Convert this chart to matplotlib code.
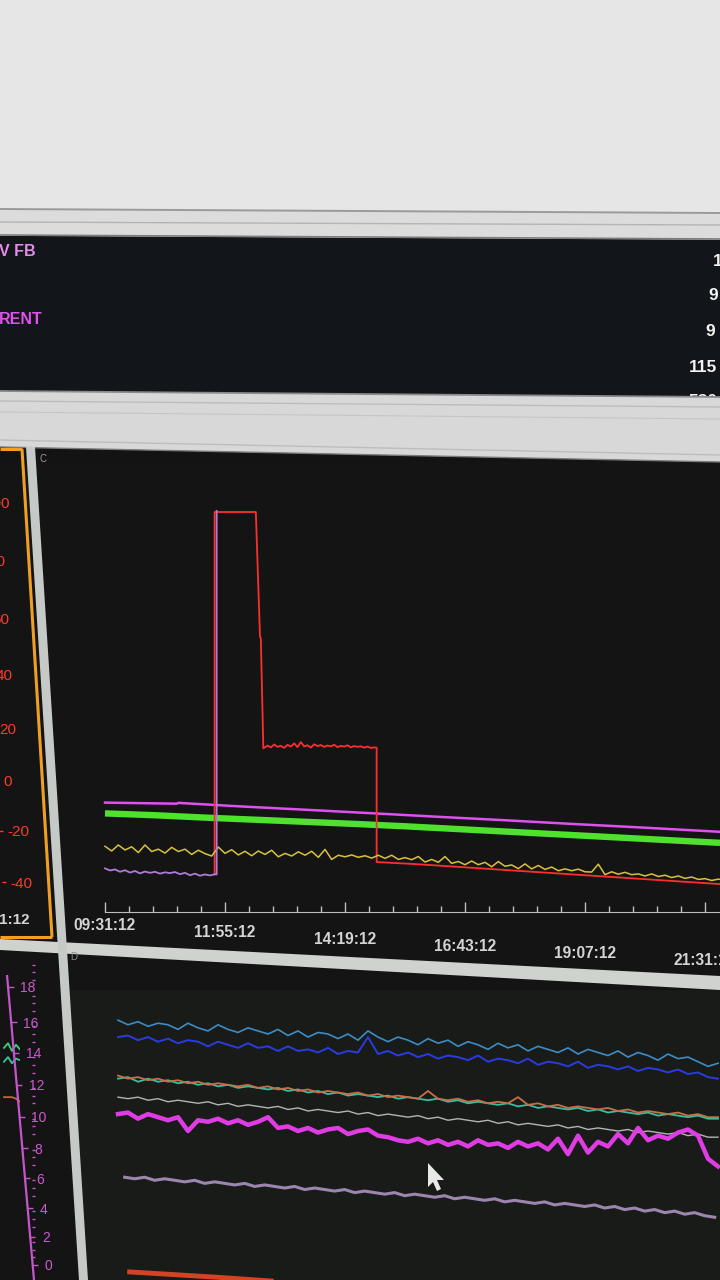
import numpy as np
import matplotlib
matplotlib.use("Agg")
import matplotlib.pyplot as plt
from matplotlib.patches import Polygon
from matplotlib.lines import Line2D
from matplotlib.ticker import FixedLocator
from matplotlib.transforms import ScaledTranslation

plt.rcParams['font.family'] = ['Liberation Sans', 'DejaVu Sans']

# ---------------------------------------------------------------- data
time_tick_minutes = [0, 144, 288, 432, 576, 720]
time_tick_labels = ["09:31:12", "11:55:12", "14:19:12", "16:43:12", "19:07:12", "21:31:12"]
c_axis_ticks = [100, 80, 60, 40, 20, 0, -20, -40]
d_axis_ticks = [0, 2, 4, 6, 8, 10, 12, 14, 16, 18]

# panel C (minutes since 09:31:12, values on the red scale)
c_magenta_t = [0, 86, 88, 160, 240, 324, 400, 480, 560, 640, 738]
c_magenta_v = [-8.6, -9.0, -8.7, -10.0, -11.3, -12.7, -14.0, -15.3, -16.7, -18.0, -19.7]

c_green_t = [0, 60, 120, 180, 240, 300, 360, 420, 480, 540, 600, 660, 738]
c_green_v = [-12.7, -13.4, -14.3, -15.1, -15.9, -16.7, -17.6, -18.6, -19.6, -20.6, -21.6, -22.6, -23.9]

c_yellow_v = [-25.2, -27.0, -24.7, -26.6, -25.4, -27.6, -24.7, -27.2, -26.3, -27.8,
              -25.6, -27.2, -26.3, -28.3, -26.7, -28.0, -28.9, -25.5, -27.9, -26.5,
              -28.5, -27.1, -28.8, -27.0, -28.3, -26.7, -29.2, -27.9, -28.9, -27.3,
              -28.6, -27.1, -29.4, -26.4, -30.2, -28.6, -29.2, -28.5, -29.4, -28.8,
              -29.7, -28.6, -29.8, -28.6, -30.2, -29.5, -30.3, -29.1, -31.2, -30.2,
              -31.3, -29.1, -31.7, -31.0, -32.2, -30.8, -32.2, -31.3, -33.0, -31.0,
              -32.8, -32.3, -33.7, -31.9, -33.8, -32.5, -34.0, -33.1, -34.5, -33.8,
              -34.5, -33.9, -34.9, -35.0, -32.0, -36.0, -34.9, -35.8, -35.1, -36.0,
              -35.7, -36.5, -35.7, -36.7, -36.2, -37.1, -36.5, -37.4, -36.9, -37.8,
              -37.5, -38.2, -37.7, -38.1]
c_yellow_step = 8

c_purple_t = [0, 6, 12, 18, 24, 30, 36, 42, 48, 54, 60, 66, 72, 78, 84, 90, 96, 102,
              108, 114, 120, 126, 132, 134, 134]
c_purple_v = [-33.6, -34.4, -34.0, -34.9, -34.3, -35.2, -34.6, -35.5, -34.8, -35.3,
              -34.9, -35.6, -35.1, -35.4, -35.0, -35.8, -35.3, -36.2, -35.6, -36.4,
              -35.9, -36.3, -35.8, -35.9, 102.3]

c_red_t = [131.5, 131.5, 181, 186, 187, 190,
           195, 199, 203, 207, 211, 215, 219, 223, 227, 231, 235, 239, 243, 247, 251,
           255, 259, 263, 267, 271, 275, 279, 283, 287, 291, 295, 299, 303, 307, 311,
           315, 319, 323, 326, 326,
           350, 374, 398, 422, 446, 470, 494, 518, 542, 566, 590, 614, 638, 662, 686,
           710, 734, 744]
c_red_v = [-35.9, 101.9, 101.9, 54.5, 53.8, 12.0,
           13.1, 12.4, 13.5, 12.6, 13.0, 12.2, 13.4, 12.7, 13.9, 12.5, 14.4, 12.8, 13.2,
           12.3, 13.6, 12.9, 13.3, 12.6, 13.1, 12.8, 13.4, 12.5, 13.0, 12.7, 13.2, 12.4,
           12.9, 12.6, 12.8, 12.3, 12.7, 12.2, 12.4, 12.3, -31.2,
           -31.6, -32.0, -32.5, -33.0, -33.5, -34.0, -34.5, -35.0, -35.5, -36.0, -36.5,
           -37.0, -37.5, -38.0, -38.5, -39.0, -39.5, -39.7]

# panel D (12-minute samples, values on the magenta scale)
d_step = 12
d_cyan_v = [15.9, 15.6, 15.8, 15.5, 15.7, 15.6, 15.3, 15.7, 15.4, 15.2, 15.6, 15.3, 15.1,
            15.4, 15.2, 15.0, 15.3, 14.9, 15.2, 14.8, 15.1, 15.0, 14.7, 15.0, 14.6, 15.2,
            14.8, 14.5, 14.8, 14.6, 14.3, 14.7, 14.4, 14.6, 14.2, 14.5, 14.3, 14.0, 14.4,
            14.1, 14.3, 13.9, 14.2, 14.0, 13.8, 14.1, 13.7, 14.0, 13.8, 13.6, 13.9, 13.5,
            13.8, 13.6, 13.3, 13.7, 13.4, 13.5, 13.2, 12.9, 13.1]
d_blue_v = [14.8, 14.9, 14.6, 14.8, 14.5, 14.7, 14.4, 14.6, 14.5, 14.2, 14.5, 14.3, 14.1,
            14.4, 14.1, 14.2, 13.9, 14.2, 13.9, 14.0, 13.8, 14.1, 13.7, 13.9, 13.8, 14.8,
            13.7, 13.9, 13.6, 13.8, 13.5, 13.7, 13.4, 13.6, 13.5, 13.3, 13.6, 13.2, 13.4,
            13.3, 13.1, 13.4, 13.0, 13.2, 13.1, 12.9, 13.2, 12.8, 13.0, 12.9, 12.7, 12.9,
            12.6, 12.8, 12.7, 12.5, 12.7, 12.4, 12.5, 12.2, 12.1]
d_orange_v = [12.3, 12.1, 12.2, 12.0, 12.1, 11.9, 12.0, 11.8, 11.9, 11.7, 11.8, 11.7, 11.6,
              11.7, 11.5, 11.6, 11.4, 11.5, 11.3, 11.4, 11.2, 11.3, 11.2, 11.1, 11.2, 11.0,
              11.1, 10.9, 11.0, 10.9, 10.8, 11.3, 10.8, 10.7, 10.8, 10.6, 10.7, 10.5, 10.6,
              10.5, 10.9, 10.4, 10.5, 10.3, 10.4, 10.2, 10.3, 10.2, 10.1, 10.2, 10.0, 10.1,
              9.9, 10.0, 9.9, 9.8, 9.9, 9.7, 9.8, 9.6, 9.6]
d_teal_v = [12.1, 12.2, 11.9, 12.1, 11.9, 12.0, 11.8, 11.9, 11.7, 11.8, 11.6, 11.7, 11.5,
            11.6, 11.5, 11.4, 11.5, 11.3, 11.4, 11.2, 11.3, 11.1, 11.2, 11.0, 11.1, 11.0,
            10.9, 11.0, 10.8, 10.9, 10.8, 10.7, 10.8, 10.6, 10.7, 10.5, 10.6, 10.5, 10.4,
            10.5, 10.3, 10.4, 10.2, 10.3, 10.2, 10.1, 10.2, 10.0, 10.1, 9.9, 10.0, 9.9,
            9.8, 9.9, 9.7, 9.8, 9.7, 9.6, 9.7, 9.5, 9.5]
d_gray_v = [10.9, 10.8, 10.9, 10.7, 10.8, 10.6, 10.7, 10.6, 10.5, 10.6, 10.4, 10.5, 10.3,
            10.4, 10.3, 10.2, 10.3, 10.1, 10.2, 10.0, 10.1, 10.0, 9.9, 10.0, 9.8, 9.9,
            9.7, 9.8, 9.7, 9.6, 9.7, 9.5, 9.6, 9.4, 9.5, 9.4, 9.3, 9.4, 9.2, 9.3, 9.1,
            9.2, 9.1, 9.0, 9.1, 8.9, 9.0, 8.8, 8.9, 8.8, 8.7, 8.8, 8.6, 8.7, 8.6, 8.5,
            8.6, 8.4, 8.5, 8.3, 8.3]
d_magenta_v = [9.8, 9.9, 9.5, 9.8, 9.6, 9.4, 9.6, 8.7, 9.4, 9.3, 9.5, 9.2, 9.4, 9.1, 9.3,
               9.6, 8.9, 9.0, 8.7, 8.9, 8.6, 8.8, 8.9, 8.5, 8.7, 8.8, 8.4, 8.3, 8.1, 8.0,
               8.2, 7.9, 8.1, 7.8, 8.0, 7.7, 8.1, 7.8, 7.9, 7.6, 8.0, 7.7, 7.9, 7.5, 8.2,
               7.2, 8.4, 7.3, 8.0, 7.7, 8.5, 7.9, 8.9, 8.1, 8.4, 8.2, 8.6, 8.8, 8.4, 6.9,
               6.4]
d_lavender_start = 8
d_lavender_v = [5.7, 5.6, 5.7, 5.5, 5.6, 5.5, 5.4, 5.5, 5.3, 5.4, 5.3, 5.2, 5.3, 5.1, 5.2,
                5.1, 5.0, 5.1, 4.9, 5.0, 4.9, 4.8, 4.9, 4.7, 4.8, 4.7, 4.6, 4.7, 4.5, 4.6,
                4.5, 4.4, 4.5, 4.3, 4.4, 4.3, 4.2, 4.3, 4.1, 4.2, 4.1, 4.0, 4.1, 3.9, 4.0,
                3.9, 3.8, 3.9, 3.7, 3.8, 3.6, 3.7, 3.5, 3.6, 3.4, 3.5, 3.3, 3.4, 3.2, 3.1]
d_red_t = [14, 60, 120, 200]
d_red_v = [-0.45, -0.6, -0.8, -1.1]

# small visible pieces of the left panel beside D
dl_t = [0, 4, 8, 12, 16]
dl_green1_v = [14.1, 14.4, 13.9, 14.3, 14.0]
dl_green2_v = [13.2, 13.5, 13.1, 13.4, 13.3]
dl_orange_v = [10.9, 10.9, 10.9, 10.8, 10.6]

# header texts
header_left = [("V FB", 252, '#e48ce8'), ("RENT", 320, '#e052ea')]
header_right = [("1", 713, 262), ("9", 708, 296), ("9", 705, 332), ("115", 689, 367), ("530", 688, 401)]

# ---------------------------------------------------------------- figure
W, H = 720, 1280
fig = plt.figure(figsize=(7.2, 12.8), dpi=100, facecolor='#131313')


def fx(x):
    return x / W


def fy(y):
    return 1 - y / H


def poly(pts, color, z=-10):
    fig.add_artist(Polygon([(fx(x), fy(y)) for x, y in pts], closed=True,
                           transform=fig.transFigure, facecolor=color,
                           edgecolor='none', zorder=z))


def seg(pts, color, lw, z=-5):
    fig.add_artist(Line2D([fx(x) for x, _ in pts], [fy(y) for _, y in pts],
                          transform=fig.transFigure, color=color, lw=lw, zorder=z,
                          solid_capstyle='butt'))


# background (screen photo layout)
poly([(0, 0), (720, 0), (720, 213), (0, 209)], '#e6e6e6')
poly([(0, 209), (720, 213), (720, 240), (0, 236)], '#dcdcdc')
seg([(0, 209), (720, 213)], '#9a9a9a', 1.4)
seg([(0, 222), (720, 225)], '#b4b4b4', 1.0)
seg([(0, 235), (720, 239)], '#7c7c7c', 1.2)
poly([(0, 236), (720, 240), (720, 397), (0, 391)], '#121519')
poly([(0, 391), (720, 397), (720, 462), (0, 447)], '#d8d8d8', z=-4)
seg([(0, 391), (720, 397)], '#8a8a8a', 1.3, z=-3)
seg([(0, 401), (720, 407)], '#bcbcbc', 1.0, z=-3)
seg([(0, 412), (720, 419)], '#c6c6c6', 0.8, z=-3)
seg([(0, 440), (720, 455)], '#bdbdbd', 1.0, z=-3)
seg([(0, 447), (720, 462)], '#7a7a7a', 1.0, z=-3)
poly([(0, 462), (720, 462), (720, 1280), (0, 1280)], '#141414', z=-11)
poly([(60, 990), (720, 990), (720, 1280), (80, 1280)], '#181b17', z=-10.5)

# panel borders
poly([(0, 939), (720, 976), (720, 990), (0, 950)], '#cfd2cf', z=-2)
poly([(26, 447), (35, 447), (88, 1280), (79, 1280)], '#c6cac6', z=-2)
seg([(0, 449), (22, 449)], '#f0a020', 2.2, z=-1)
seg([(22, 449), (52, 937)], '#f0a020', 2.2, z=-1)
seg([(0, 937), (52, 937)], '#f0a020', 2.2, z=-1)

# header texts
for txt, y, col in header_left:
    fig.text(fx(-1), fy(y), txt, color=col, fontsize=11.5, fontweight='bold',
             ha='left', va='center', zorder=1)
for txt, x, y in header_right:
    fig.text(fx(x), fy(y), txt, color='#f2f2f2', fontsize=12.5, fontweight='bold',
             ha='left', va='center', zorder=-4.5)

fig.text(fx(40), fy(459), "C", color='#9a9a9a', fontsize=7, ha='left', va='center')
fig.text(fx(70), fy(957), "D", color='#8a8a8a', fontsize=7, ha='left', va='center')
fig.text(fx(-1), fy(920), "1:12", color='#d2d2d2', fontsize=11, fontweight='bold',
         ha='left', va='center')

# ---------------------------------------------------------------- panel C
PX_PER_MIN = 600 / 720
c_top, c_bot = 452, 945
c_ylim = ((780 - c_bot) / 2.63, (780 - c_top) / 2.63)
axC = fig.add_axes([fx(40), fy(c_bot), fx(720) - fx(40), fy(c_top) - fy(c_bot)])
axC.set_facecolor('none')
axC.set_xlim((40 - 105) / PX_PER_MIN, (720 - 105) / PX_PER_MIN)
axC.set_ylim(*c_ylim)
for s in ['left', 'right', 'top']:
    axC.spines[s].set_visible(False)
axC.spines['bottom'].set_position(('data', -50))
axC.spines['bottom'].set_bounds(0, (720 - 105) / PX_PER_MIN)
axC.spines['bottom'].set_color('#bdbdbd')
axC.set_yticks([])
axC.xaxis.set_major_locator(FixedLocator(time_tick_minutes))
axC.set_xticklabels(time_tick_labels)
minor_c = [28.8 * k for k in range(1, 26) if k % 5]
axC.xaxis.set_minor_locator(FixedLocator(minor_c))
axC.tick_params(axis='x', which='major', direction='in', length=7, width=1,
                color='#bdbdbd', labelcolor='#d4d4d4', labelsize=11.2, pad=9.5)
for lab in axC.get_xticklabels():
    lab.set_fontweight('bold')
axC.tick_params(axis='x', which='minor', direction='in', length=4, width=1, color='#bdbdbd')

axC.plot(c_green_t, c_green_v, color='#4fe22c', lw=4.6, solid_capstyle='butt')
axC.plot(c_magenta_t, c_magenta_v, color='#e050f0', lw=1.8)
yt = np.arange(len(c_yellow_v)) * c_yellow_step
axC.plot(c_red_t, c_red_v, color='#ff2e2e', lw=1.3)
axC.plot(yt, c_yellow_v, color='#d8c23c', lw=1.1)
axC.plot(c_purple_t, c_purple_v, color='#b07ad8', lw=1.3)

label_drop = [-7, 0, 7, 14, 21, 28]
for lab, dy in zip(axC.get_xticklabels(), label_drop):
    lab.set_transform(lab.get_transform() + ScaledTranslation(0, -dy / 100, fig.dpi_scale_trans))

# red value axis of the left panel (perspective: shifted per tick)
red_label_dy = [-14, -9.6, -4, 0, 0.6, 0, -1.6, -3]
axL = fig.add_axes([fx(-27), fy(c_bot), fx(22), fy(c_top) - fy(c_bot)])
axL.set_facecolor('none')
axL.set_ylim(*c_ylim)
for s in axL.spines.values():
    s.set_visible(False)
axL.set_xticks([])
axL.yaxis.tick_right()
axL.set_yticks(c_axis_ticks)
axL.set_yticklabels([str(v) for v in c_axis_ticks])
axL.tick_params(axis='y', direction='out', length=3, width=1, color='#ff3a2a',
                labelcolor='#ff3a2a', labelsize=11, pad=3)
for tk, dy in zip(axL.yaxis.get_major_ticks(), red_label_dy):
    shift = -0.184 * tk.get_loc()
    off = ScaledTranslation(shift / 100, -dy / 100, fig.dpi_scale_trans)
    tk.tick2line.set_transform(tk.tick2line.get_transform() + off)
    tk.label2.set_transform(tk.label2.get_transform() + off)

# ---------------------------------------------------------------- panel D
d_top, d_bot = 962, 1280
d_ylim = ((1265 - d_bot) / 15.4, (1265 - d_top) / 15.4)
axD = fig.add_axes([fx(62), fy(d_bot), fx(720) - fx(62), fy(d_top) - fy(d_bot)])
axD.set_facecolor('none')
axD.set_xlim((62 - 118) / PX_PER_MIN, (720 - 118) / PX_PER_MIN)
axD.set_ylim(*d_ylim)
axD.axis('off')

td = np.arange(len(d_cyan_v)) * d_step
axD.plot(td, d_cyan_v, color='#3d8cc6', lw=1.2)
axD.plot(td, d_blue_v, color='#2a3ce0', lw=1.4)
axD.plot(td, d_teal_v, color='#36bfa0', lw=1.3)
axD.plot(td, d_orange_v, color='#c86e48', lw=1.3)
axD.plot(td, d_gray_v, color='#b4b4b4', lw=1.0)
axD.plot(td, d_magenta_v, color='#e03ce4', lw=3.2)
tl = d_lavender_start + np.arange(len(d_lavender_v)) * d_step
axD.plot(tl, d_lavender_v, color='#9c86b0', lw=2.2)
axD.plot(d_red_t, d_red_v, color='#d44424', lw=3.5)

# magenta value axis of the left panel beside D (perspective: shifted per tick)
mag_label_dy = [0, 2.8, 4.6, 5.4, 6.2, 6.0, 4.8, 3.6, 3.4, -0.8]
axDL = fig.add_axes([fx(-10), fy(d_bot), fx(30), fy(d_top) - fy(d_bot)])
axDL.set_facecolor('none')
axDL.set_ylim(*d_ylim)
axDL.set_xlim(-14, 16)
for s in axDL.spines.values():
    s.set_visible(False)
axDL.set_xticks([])
axDL.yaxis.tick_right()
axDL.set_yticks(d_axis_ticks)
axDL.set_yticklabels([str(v) for v in d_axis_ticks])
axDL.yaxis.set_minor_locator(FixedLocator([v + 0.5 * k for v in range(0, 19, 2) for k in (1, 2, 3)]))
axDL.tick_params(axis='y', which='major', direction='out', length=4, width=1,
                 color='#c456cc', labelcolor='#cc5ad2', labelsize=10, pad=5)
axDL.tick_params(axis='y', which='minor', direction='out', length=2, width=1, color='#c456cc')
for tk in axDL.yaxis.get_major_ticks() + axDL.yaxis.get_minor_ticks():
    loc = tk.get_loc()
    dy = float(np.interp(loc, d_axis_ticks, mag_label_dy))
    ypx = 1265 - 15.4 * loc + dy
    shift = 0.087 * (ypx - 1130)
    off = ScaledTranslation(shift / 100, -dy / 100, fig.dpi_scale_trans)
    tk.tick2line.set_transform(tk.tick2line.get_transform() + off)
    tk.label2.set_transform(tk.label2.get_transform() + off)
axDL.plot(dl_t, dl_green1_v, color='#3fd07a', lw=1.3)
axDL.plot(dl_t, dl_green2_v, color='#30c8a0', lw=1.3)
axDL.plot(dl_t, dl_orange_v, color='#d06030', lw=1.3)
seg([(7, 975), (34, 1280)], '#c456cc', 1.6, z=1)

# mouse cursor
poly([(428, 1163), (428, 1187), (433, 1182), (437, 1191), (441, 1189), (437, 1180), (444, 1180)],
     '#e8e8e8', z=2)

fig.savefig("out.png", dpi=100, facecolor=fig.get_facecolor())
